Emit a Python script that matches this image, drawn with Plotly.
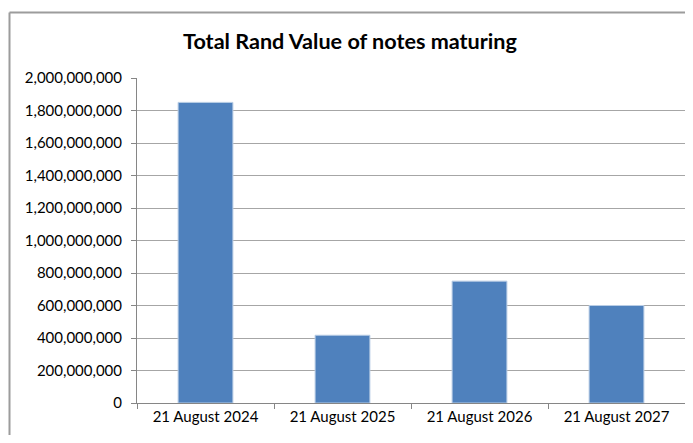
import plotly.graph_objects as go

categories = ["21 August 2024", "21 August 2025", "21 August 2026", "21 August 2027"]
values = [1850000000, 417000000, 750000000, 600000000]
y_ticks = list(range(0, 2000000001, 200000000))
y_tick_labels = [f"{v:,}" for v in y_ticks]

font_family = "Lato, Open Sans, sans-serif"

# The page body has an 8px margin on every side, so the figure is sized to fit
# inside the 693x443 window without scrollbars.
W, H = 677, 427
L, R, T, B = 129, 0, 70, 32
PW = W - L - R
PH = H - T - B

def px_x(p):
    return (p - L) / PW

def px_y(p):
    return (H - B - p) / PH

fig = go.Figure(
    go.Bar(
        x=categories,
        y=values,
        marker=dict(color="#4f81bd", line=dict(color="#b9cde5", width=1)),
        width=0.4,
    )
)

border = dict(color="#9c9c9c", width=2)

fig.update_layout(
    width=W,
    height=H,
    margin=dict(l=L, r=R, t=T, b=B, pad=0),
    paper_bgcolor="white",
    plot_bgcolor="white",
    showlegend=False,
    font=dict(family=font_family, size=15, color="black"),
    title=dict(
        text="<b>Total Rand Value of notes maturing</b>",
        x=(350 - 8) / W,
        xanchor="center",
        y=1 - (41 - 8) / H,
        yanchor="middle",
        font=dict(family=font_family, size=21.6, color="black"),
    ),
    xaxis=dict(
        type="category",
        tickson="boundaries",
        ticks="outside",
        ticklen=5,
        tickcolor="#868686",
        showline=True,
        linecolor="#868686",
        linewidth=1,
        showgrid=False,
        tickfont=dict(size=15),
    ),
    yaxis=dict(
        range=[0, 2000000000],
        tickvals=y_ticks,
        ticktext=y_tick_labels,
        ticks="outside",
        ticklen=5,
        tickcolor="#868686",
        showline=True,
        linecolor="#868686",
        linewidth=1,
        showgrid=True,
        gridcolor="#a6a6a6",
        gridwidth=1,
        zeroline=False,
        ticklabelstandoff=6,
        tickfont=dict(size=15),
    ),
    shapes=[
        dict(type="line", xref="paper", yref="paper",
             x0=px_x(1.5), x1=px_x(W + 20), y0=px_y(4.5), y1=px_y(4.5),
             line=border, layer="below"),
        dict(type="line", xref="paper", yref="paper",
             x0=px_x(1.5), x1=px_x(1.5), y0=px_y(4.5), y1=px_y(H + 20),
             line=border, layer="below"),
    ],
)

fig.write_html("out.html")
